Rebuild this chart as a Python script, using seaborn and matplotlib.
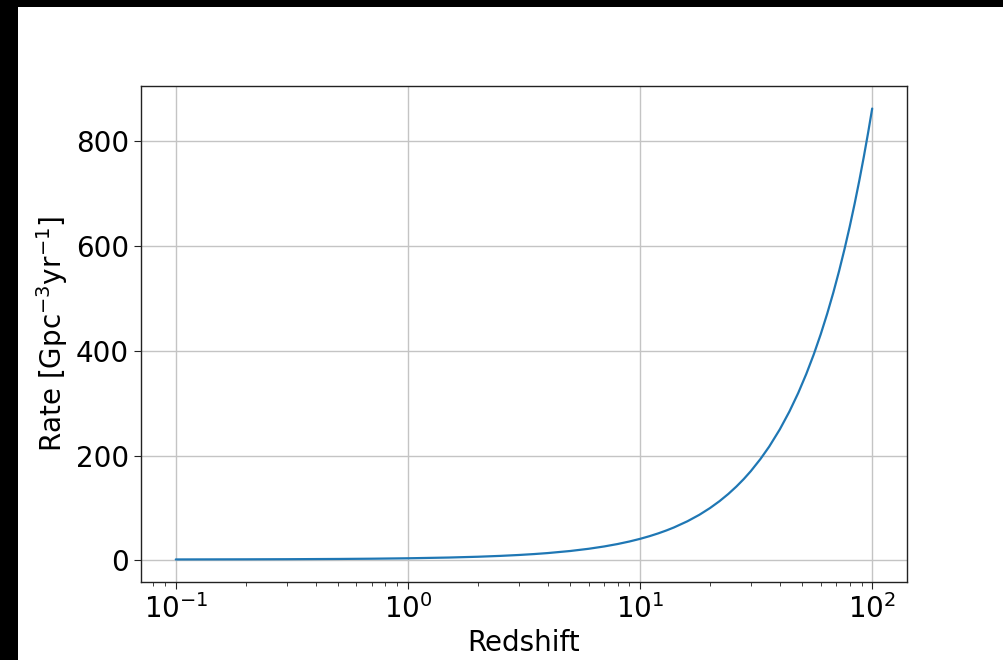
import matplotlib
matplotlib.use("Agg")
import matplotlib.pyplot as plt
from matplotlib.patches import Rectangle
import seaborn as sns
import pandas as pd

# Merger rate as a function of redshift
redshift = [0.1, 0.2, 0.3, 0.5, 0.7, 1, 1.5, 2, 2.5, 3, 3.5, 4, 5, 6, 7, 8, 9,
            10, 11, 12, 13, 14, 16, 18, 20, 22, 24, 26, 28, 30, 33, 36, 40,
            44, 48, 52, 56, 60, 64, 68, 72, 76, 80, 84, 88, 92, 96, 100]
rate = [1.73, 1.96, 2.18, 2.66, 3.15, 3.94, 5.36, 6.88, 8.51, 10.22, 12.01,
        13.88, 17.84, 22.04, 26.48, 31.13, 35.98, 41.01, 46.22, 51.59, 57.12,
        62.79, 74.59, 86.86, 99.69, 112.96, 126.68, 140.8, 155.3, 170.2,
        193.3, 217.0, 249.9, 284.0, 319.2, 355.5, 392.8, 431.2, 470.6, 510.8,
        551.9, 593.9, 636.6, 680.3, 724.6, 769.7, 815.5, 862.0]
yticks = [0, 200, 400, 600, 800]

df = pd.DataFrame({"Redshift": redshift, "Rate": rate})

sns.set_style("white", rc={"text.color": "black", "axes.labelcolor": "black",
                           "xtick.color": "black", "ytick.color": "black"})
plt.rcParams["font.family"] = ["DejaVu Sans"]
plt.rcParams["mathtext.fontset"] = "dejavusans"

fig = plt.figure(figsize=(10.04, 6.6), dpi=100)
fig.patch.set_facecolor("white")
ax = fig.add_axes([0.1404, 0.1182, 0.763, 0.7515])

sns.lineplot(data=df, x="Redshift", y="Rate", ax=ax, color="#1f77b4",
             linewidth=1.6)
ax.set_xscale("log")
ax.set_yticks(yticks)
ax.grid(True, color="#c4c4c4", linewidth=1.0)
ax.set_axisbelow(True)

for side in ["left", "bottom", "right", "top"]:
    ax.spines[side].set_color("#222222")
    ax.spines[side].set_linewidth(1.0)

ax.tick_params(axis="both", which="major", labelsize=20, length=5,
               direction="out", color="#222222", left=True, bottom=True)
ax.tick_params(axis="x", which="minor", length=3, color="#222222", bottom=True)
ax.set_xlabel("Redshift", fontsize=20)
ax.set_ylabel(r"Rate [Gpc$^{-3}$yr$^{-1}$]", fontsize=20)

# dark frame strips along the left and top edges
fig.patches.append(Rectangle((0, 0), 18 / 1004, 1, transform=fig.transFigure,
                             facecolor="black", edgecolor="none", zorder=10))
fig.patches.append(Rectangle((0, 1 - 7 / 660), 1, 7 / 660,
                             transform=fig.transFigure, facecolor="black",
                             edgecolor="none", zorder=10))

fig.savefig("out.png", dpi=100)
